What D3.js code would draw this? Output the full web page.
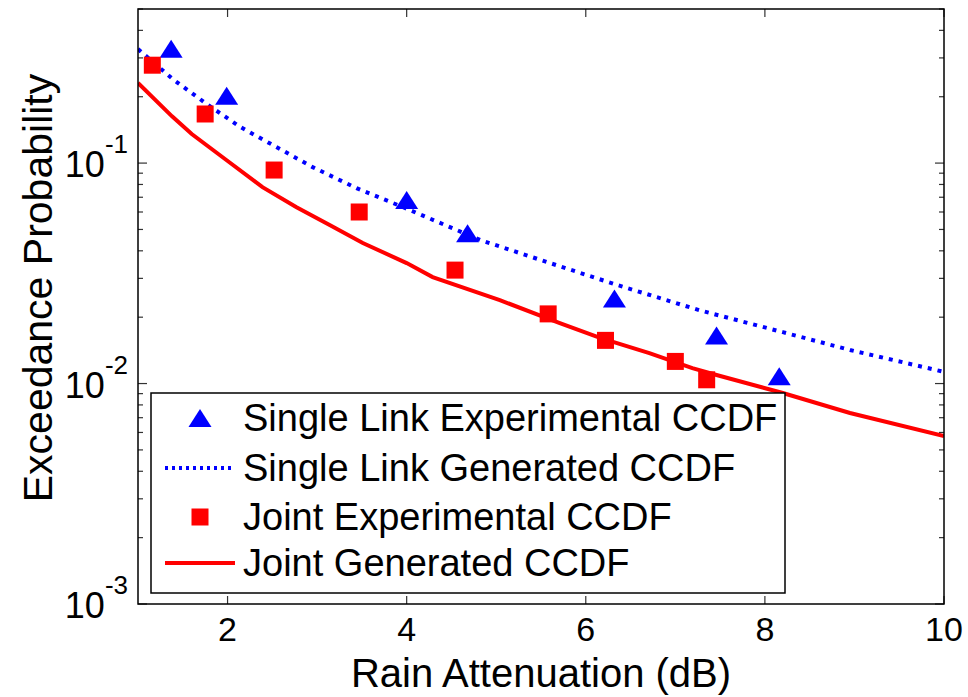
<!DOCTYPE html>
<html>
<head>
<meta charset="utf-8">
<script src="https://cdn.jsdelivr.net/npm/d3@7"></script>
<style>
  body { margin: 0; background: #fff; }
  text { font-family: "Liberation Sans", Arial, sans-serif; fill: #000; }
</style>
</head>
<body>
<script>
// single link, experimental points (triangles)
var singleExpX = [1.37, 1.99, 4.0, 4.68, 6.32, 7.46, 8.16];
var singleExpY = [0.33, 0.202, 0.068, 0.048, 0.0243, 0.0165, 0.0108];

// single link, generated curve (dotted)
var singleGenX = [1.0, 1.39, 1.77, 2.14, 2.55, 2.95, 3.44, 3.96, 4.82, 5.60, 6.35, 7.27, 8.20, 8.95, 10.0];
var singleGenY = [0.329, 0.240, 0.185, 0.146, 0.118, 0.0959, 0.0770, 0.0631, 0.0448, 0.0352, 0.0280, 0.0215, 0.0171, 0.0142, 0.0113];

// joint, experimental points (squares)
var jointExpX = [1.16, 1.75, 2.52, 3.47, 4.54, 5.58, 6.22, 7.0, 7.35];
var jointExpY = [0.278, 0.167, 0.093, 0.060, 0.0327, 0.0207, 0.0157, 0.0126, 0.0104];

// joint, generated curve (solid)
var jointGenX = [1.0, 1.38, 1.60, 1.99, 2.39, 2.77, 3.14, 3.51, 4.0, 4.29, 5.04, 5.71, 6.16, 6.71, 7.19, 7.46, 8.20, 8.95, 10.0];
var jointGenY = [0.231, 0.163, 0.1355, 0.103, 0.0778, 0.0631, 0.0524, 0.0434, 0.0352, 0.0304, 0.0239, 0.0188, 0.0161, 0.01375, 0.01175, 0.01093, 0.00906, 0.00735, 0.00578];

var xTicks = [2, 4, 6, 8, 10];
var yTicks = [1e-3, 1e-2, 1e-1];
var yExps = ["-3", "-2", "-1"];
var legendLabels = ["Single Link Experimental CCDF", "Single Link Generated CCDF",
                    "Joint Experimental CCDF", "Joint Generated CCDF"];

var width = 968, height = 697;
var margin = {left: 138, right: 24, top: 9, bottom: 93};
var pw = width - margin.left - margin.right;
var ph = height - margin.top - margin.bottom;

var svg = d3.select("body").append("svg")
    .attr("width", width)
    .attr("height", height);

var x = d3.scaleLinear().domain([1, 10]).range([0, pw]);
var y = d3.scaleLog().domain([1e-3, 0.5]).range([ph, 0]);

var g = svg.append("g").attr("transform", "translate(" + margin.left + "," + margin.top + ")");

g.append("clipPath").attr("id", "clip")
  .append("rect").attr("width", pw).attr("height", ph);

// minor y ticks (2..9 of each decade)
var minor = [];
[1e-3, 1e-2, 1e-1].forEach(function(d) {
    for (var k = 2; k <= 9; k++) {
        var v = d * k;
        if (v <= 0.5) minor.push(v);
    }
});

function tickLines(sel, vals, len, isX) {
    vals.forEach(function(v) {
        if (isX) {
            sel.append("line").attr("x1", x(v)).attr("x2", x(v)).attr("y1", ph).attr("y2", ph - len);
            sel.append("line").attr("x1", x(v)).attr("x2", x(v)).attr("y1", 0).attr("y2", len);
        } else {
            sel.append("line").attr("x1", 0).attr("x2", len).attr("y1", y(v)).attr("y2", y(v));
            sel.append("line").attr("x1", pw).attr("x2", pw - len).attr("y1", y(v)).attr("y2", y(v));
        }
    });
}

var ticks = g.append("g").attr("stroke", "#333").attr("stroke-width", 1.2);
tickLines(ticks, xTicks, 8, true);
tickLines(ticks, yTicks, 9, false);
tickLines(ticks, minor, 5, false);

// x tick labels
g.selectAll(".xlab")
  .data(xTicks)
  .enter().append("text")
    .attr("class", "xlab")
    .attr("x", function(d) { return x(d); })
    .attr("y", ph + 37)
    .attr("text-anchor", "middle")
    .style("font-size", "34px")
    .text(function(d) { return d; });

// y tick labels with superscript exponent
var ylab = g.selectAll(".ylab")
  .data(yTicks)
  .enter().append("text")
    .attr("class", "ylab")
    .attr("x", -10)
    .attr("y", function(d) { return y(d) + 14; })
    .attr("text-anchor", "end");
ylab.append("tspan").style("font-size", "36px").text("10");
ylab.append("tspan").style("font-size", "26px").attr("dy", -24)
    .text(function(d, i) { return yExps[i]; });

// curves and markers
var plot = g.append("g").attr("clip-path", "url(#clip)");

var line = d3.line()
    .x(function(d) { return x(d[0]); })
    .y(function(d) { return y(d[1]); });

var triangle = "M0,-9L11.5,9L-11.5,9Z";

plot.selectAll(".tri")
  .data(d3.zip(singleExpX, singleExpY))
  .enter().append("path")
    .attr("class", "tri")
    .attr("d", triangle)
    .attr("fill", "#0000ff")
    .attr("transform", function(d) { return "translate(" + x(d[0]) + "," + y(d[1]) + ")"; });

plot.append("path")
    .datum(d3.zip(singleGenX, singleGenY))
    .attr("fill", "none")
    .attr("stroke", "#0000ff")
    .attr("stroke-width", 4)
    .attr("stroke-dasharray", "4,6")
    .attr("d", line);

plot.selectAll(".sq")
  .data(d3.zip(jointExpX, jointExpY))
  .enter().append("rect")
    .attr("class", "sq")
    .attr("x", function(d) { return x(d[0]) - 8.5; })
    .attr("y", function(d) { return y(d[1]) - 8.5; })
    .attr("width", 17)
    .attr("height", 17)
    .attr("fill", "#ff0000");

plot.append("path")
    .datum(d3.zip(jointGenX, jointGenY))
    .attr("fill", "none")
    .attr("stroke", "#ff0000")
    .attr("stroke-width", 4)
    .attr("d", line);

// frame
g.append("rect")
    .attr("width", pw)
    .attr("height", ph)
    .attr("fill", "none")
    .attr("stroke", "#000")
    .attr("stroke-width", 1.5);

// legend
var lg = svg.append("g").attr("transform", "translate(151,393)");
lg.append("rect")
    .attr("width", 634)
    .attr("height", 200)
    .attr("fill", "#fff")
    .attr("stroke", "#000")
    .attr("stroke-width", 1.5);

var rowY = [25, 75, 124, 170];
var items = lg.selectAll(".leg")
  .data(legendLabels)
  .enter().append("g")
    .attr("class", "leg")
    .attr("transform", function(d, i) { return "translate(0," + rowY[i] + ")"; });

items.append("text")
    .attr("x", 92)
    .attr("y", 13)
    .style("font-size", "38px")
    .text(function(d) { return d; });

items.each(function(d, i) {
    var it = d3.select(this);
    if (i == 0) {
        it.append("path").attr("d", triangle).attr("fill", "#0000ff")
          .attr("transform", "translate(49,0)");
    } else if (i == 1) {
        it.append("line").attr("x1", 14).attr("x2", 84).attr("y1", 0).attr("y2", 0)
          .attr("stroke", "#0000ff").attr("stroke-width", 4).attr("stroke-dasharray", "3,4");
    } else if (i == 2) {
        it.append("rect").attr("x", 40.5).attr("y", -8.5).attr("width", 17).attr("height", 17)
          .attr("fill", "#ff0000");
    } else {
        it.append("line").attr("x1", 14).attr("x2", 84).attr("y1", 0).attr("y2", 0)
          .attr("stroke", "#ff0000").attr("stroke-width", 4);
    }
});

// axis titles
svg.append("text")
    .attr("x", margin.left + pw / 2)
    .attr("y", 687)
    .attr("text-anchor", "middle")
    .style("font-size", "40px")
    .text("Rain Attenuation (dB)");

svg.append("text")
    .attr("transform", "translate(52,288) rotate(-90)")
    .attr("text-anchor", "middle")
    .style("font-size", "41px")
    .text("Exceedance Probability");
</script>
</body>
</html>
